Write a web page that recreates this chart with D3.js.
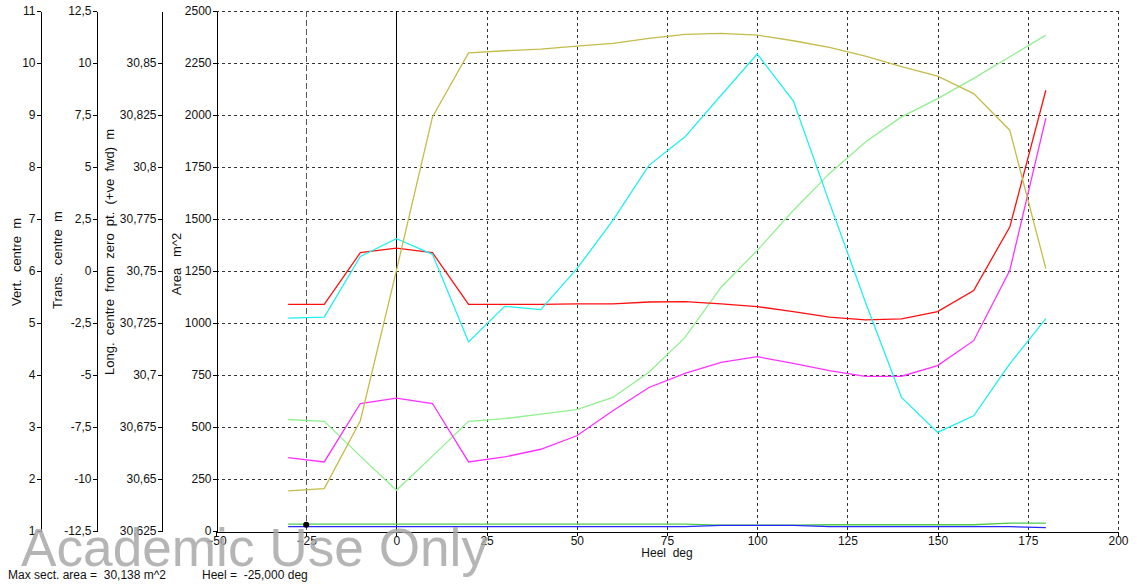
<!DOCTYPE html>
<html>
<head>
<meta charset="utf-8">
<title>Sectional area vs heel</title>
<style>
  body { margin: 0; background: #fff; }
  svg { font-family: "Liberation Sans", Arial, sans-serif; font-size: 12px; }
  .grid line { stroke: #333; stroke-dasharray: 3,3; shape-rendering: crispEdges; }
  .ax path, .ax line { stroke: #000; shape-rendering: crispEdges; }
  .ax text { fill: #111; font-size: 12px; }
</style>
</head>
<body>
<script src="https://cdn.jsdelivr.net/npm/d3@7"></script>
<script>

// heel angles (deg) the curves were sampled at
var heel = [-30, -20, -10, 0, 10, 20, 30, 40, 50, 60, 70, 80, 90, 100, 110, 120, 130, 140, 150, 160, 170, 180];

// curve values, read against the area axis (m^2)
var olive   = [193, 204, 530, 1252, 1991, 2299, 2309, 2317, 2331, 2344, 2368, 2388, 2392, 2384, 2357, 2325, 2283, 2232, 2187, 2103, 1927, 1262];
var cyan    = [1023, 1028, 1320, 1405, 1330, 909, 1080, 1064, 1260, 1493, 1758, 1895, 2095, 2293, 2068, 1580, 1100, 642, 474, 554, 804, 1021];
var red     = [1090, 1090, 1338, 1360, 1338, 1090, 1090, 1090, 1092, 1092, 1101, 1103, 1092, 1079, 1055, 1028, 1015, 1020, 1055, 1156, 1461, 2119];
var magenta = [353, 332, 613, 639, 613, 332, 356, 393, 458, 578, 690, 758, 811, 838, 806, 771, 743, 744, 795, 915, 1252, 1985];
var lgreen  = [536, 527, 360, 196, 360, 527, 540, 562, 583, 642, 763, 931, 1172, 1349, 1541, 1718, 1870, 1991, 2079, 2176, 2280, 2384];
var area    = [33, 33, 33, 33, 33, 33, 33, 33, 33, 33, 33, 33, 28, 28, 28, 30, 30, 30, 30, 30, 38, 38];
var blue    = [21, 21, 21, 21, 21, 21, 21, 21, 21, 21, 21, 21, 27, 27, 27, 21, 21, 21, 21, 21, 21, 16];

// cursor
var cursorHeel = -25;
var cursorArea = 30.138;

// tick values
var heelTicks  = [-50, -25, 0, 25, 50, 75, 100, 125, 150, 175, 200];
var areaTicks  = [0, 250, 500, 750, 1000, 1250, 1500, 1750, 2000, 2250, 2500];
var vertTicks  = [1, 2, 3, 4, 5, 6, 7, 8, 9, 10, 11];
var transTicks = [-12.5, -10, -7.5, -5, -2.5, 0, 2.5, 5, 7.5, 10, 12.5];
var longTicks  = [30.625, 30.65, 30.675, 30.7, 30.725, 30.75, 30.775, 30.8, 30.825, 30.85];

var width = 1137, height = 587;
var plotL = 216, plotR = 1118, plotT = 11, plotB = 531;

var svg = d3.select("body").append("svg")
    .attr("width", width)
    .attr("height", height);

var x = d3.scaleLinear().domain([-50, 200]).range([plotL, plotR]);
var y = d3.scaleLinear().domain([0, 2500]).range([plotB, plotT]);
var yVert = d3.scaleLinear().domain([1, 11]).range([plotB, plotT]);
var yTrans = d3.scaleLinear().domain([-12.5, 12.5]).range([plotB, plotT]);
var yLong = d3.scaleLinear().domain([30.625, 30.875]).range([plotB, plotT]);

function comma(d) { return String(d).replace(".", ","); }

// grid
var grid = svg.append("g").attr("class", "grid");
grid.selectAll(".h").data(areaTicks.slice(1)).enter().append("line")
    .attr("x1", plotL).attr("x2", plotR)
    .attr("y1", function(d) { return Math.round(y(d)) + 0.5; })
    .attr("y2", function(d) { return Math.round(y(d)) + 0.5; });
grid.selectAll(".v").data(heelTicks.filter(function(d) { return d > 0; })).enter().append("line")
    .attr("y1", plotT).attr("y2", plotB)
    .attr("x1", function(d) { return Math.round(x(d)) + 0.5; })
    .attr("x2", function(d) { return Math.round(x(d)) + 0.5; });

// cursor line and zero heel line
svg.append("line")
    .attr("x1", Math.round(x(cursorHeel)) + 0.5).attr("x2", Math.round(x(cursorHeel)) + 0.5)
    .attr("y1", plotT).attr("y2", plotB)
    .attr("stroke", "#555").attr("stroke-dasharray", "6,3")
    .attr("shape-rendering", "crispEdges");
svg.append("line")
    .attr("x1", Math.round(x(0)) + 0.5).attr("x2", Math.round(x(0)) + 0.5)
    .attr("y1", plotT).attr("y2", plotB)
    .attr("stroke", "#000").attr("shape-rendering", "crispEdges");

// axes
function leftAxis(scale, ticks, xpos) {
  svg.append("g").attr("class", "ax")
      .attr("transform", "translate(" + xpos + ",0)")
      .call(d3.axisLeft(scale).tickValues(ticks).tickSize(4).tickSizeOuter(0).tickFormat(comma))
      .call(function(g) { g.selectAll("text").attr("x", -5); });
}
leftAxis(yVert, vertTicks, 40.5);
leftAxis(yTrans, transTicks, 96.5);
leftAxis(yLong, longTicks, 161.5);
leftAxis(y, areaTicks, plotL + 0.5);

svg.append("g").attr("class", "ax")
    .attr("transform", "translate(0," + (plotB + 0.5) + ")")
    .call(d3.axisBottom(x).tickValues(heelTicks).tickSize(4).tickSizeOuter(0))
    .call(function(g) { g.selectAll("text").attr("y", 5); });

// axis titles
var titles = [
  { text: "Vert.  centre  m", x: 21, y: 262 },
  { text: "Trans.  centre  m", x: 62, y: 260 },
  { text: "Long.  centre  from  zero  pt.  (+ve  fwd)  m", x: 114, y: 252 },
  { text: "Area   m^2", x: 181, y: 264 }
];
svg.selectAll(".ytitle").data(titles).enter().append("text")
    .attr("transform", function(d) { return "translate(" + d.x + "," + d.y + ") rotate(-90)"; })
    .attr("text-anchor", "middle")
    .attr("font-size", 13)
    .style("white-space", "pre")
    .attr("fill", "#111")
    .text(function(d) { return d.text; });

svg.append("text")
    .attr("x", (plotL + plotR) / 2).attr("y", 557)
    .attr("text-anchor", "middle")
    .attr("fill", "#111")
    .text("Heel  deg").style("white-space", "pre");

// curves
var series = [
  { values: area, color: "#4ccc4c" },
  { values: blue, color: "#2828ff" },
  { values: lgreen, color: "#90f090" },
  { values: magenta, color: "#ff30ff" },
  { values: red, color: "#ff1010" },
  { values: cyan, color: "#20f0f0" },
  { values: olive, color: "#c4bc48" }
];

var line = d3.line()
    .x(function(d, i) { return x(heel[i]); })
    .y(function(d) { return y(d); });

svg.selectAll(".curve").data(series).enter().append("path")
    .attr("class", "curve")
    .attr("d", function(d) { return line(d.values); })
    .attr("fill", "none")
    .attr("stroke", function(d) { return d.color; })
    .attr("stroke-width", 1.3);

svg.append("circle")
    .attr("cx", x(cursorHeel)).attr("cy", y(cursorArea))
    .attr("r", 3).attr("fill", "#000");

// footer
svg.append("text").attr("x", 8).attr("y", 579)
    .style("white-space", "pre").attr("fill", "#111")
    .text("Max sect. area =  30,138 m^2");
svg.append("text").attr("x", 202).attr("y", 579)
    .style("white-space", "pre").attr("fill", "#111")
    .text("Heel =  -25,000 deg");

// watermark
svg.append("text")
    .attr("x", 21).attr("y", 566)
    .attr("font-size", 53)
    .attr("textLength", 467)
    .attr("lengthAdjust", "spacingAndGlyphs")
    .attr("fill", "#a8a8a8")
    .attr("fill-opacity", 0.85)
    .text("Academic Use Only");

</script>
</body>
</html>
